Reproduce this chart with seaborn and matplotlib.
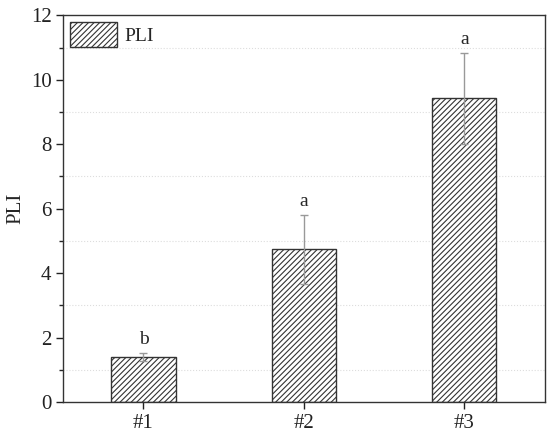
import matplotlib
matplotlib.use("Agg")
from matplotlib import pyplot as plt
import matplotlib.patches as mpatches
from matplotlib.ticker import MultipleLocator
import numpy as np
import pandas as pd
import seaborn as sns

# values
sites = ["#1", "#2", "#3"]
pli = [1.40, 4.74, 9.42]
pli_err = [0.12, 1.07, 1.42]
letters = ["b", "a", "a"]

sns.set_style("ticks")
plt.rcParams["font.family"] = ["Liberation Serif", "DejaVu Serif"]
plt.rcParams["hatch.color"] = "#555555"
plt.rcParams["hatch.linewidth"] = 0.8

df = pd.DataFrame({"site": sites, "PLI": pli})

fig, ax = plt.subplots(figsize=(5.5, 4.37), dpi=100)
fig.subplots_adjust(left=0.115, right=0.99, top=0.965, bottom=0.08)

sns.barplot(data=df, x="site", y="PLI", color="white", width=0.4,
            edgecolor="#333333", linewidth=1.0, errorbar=None, ax=ax)
for p in ax.patches:
    p.set_hatch("//////")

xs = np.arange(len(sites))
ax.errorbar(xs, pli, yerr=pli_err, fmt="none", ecolor="#999999",
            elinewidth=1.0, capsize=3, capthick=1.0)
for x, v, e, t in zip(xs, pli, pli_err, letters):
    ax.text(x, v + e + 0.15, t, ha="center", va="bottom", fontsize=14)

ax.set_xlim(-0.5, 2.5)
ax.set_ylim(0, 12)
ax.yaxis.set_major_locator(MultipleLocator(2))
ax.yaxis.set_minor_locator(MultipleLocator(1))
ax.grid(which="minor", axis="y", color="#dddddd", linestyle=":", linewidth=0.8)
ax.set_axisbelow(True)

for s in ax.spines.values():
    s.set_visible(True)
    s.set_color("#333333")
    s.set_linewidth(1.0)
ax.tick_params(axis="both", which="major", direction="out", length=5,
               width=1.0, labelsize=15, colors="#222222")
ax.tick_params(axis="y", which="minor", direction="out", length=3, width=1.0)
ax.set_xlabel("")
ax.set_ylabel("PLI", fontsize=15)

handle = mpatches.Patch(facecolor="white", edgecolor="#333333", hatch="//////",
                        label="PLI")
ax.legend(handles=[handle], loc="upper left", frameon=False, fontsize=14,
          handlelength=2.4, handleheight=1.6, borderaxespad=0.15,
          borderpad=0.2, handletextpad=0.4)

fig.savefig("out.png", dpi=100)
